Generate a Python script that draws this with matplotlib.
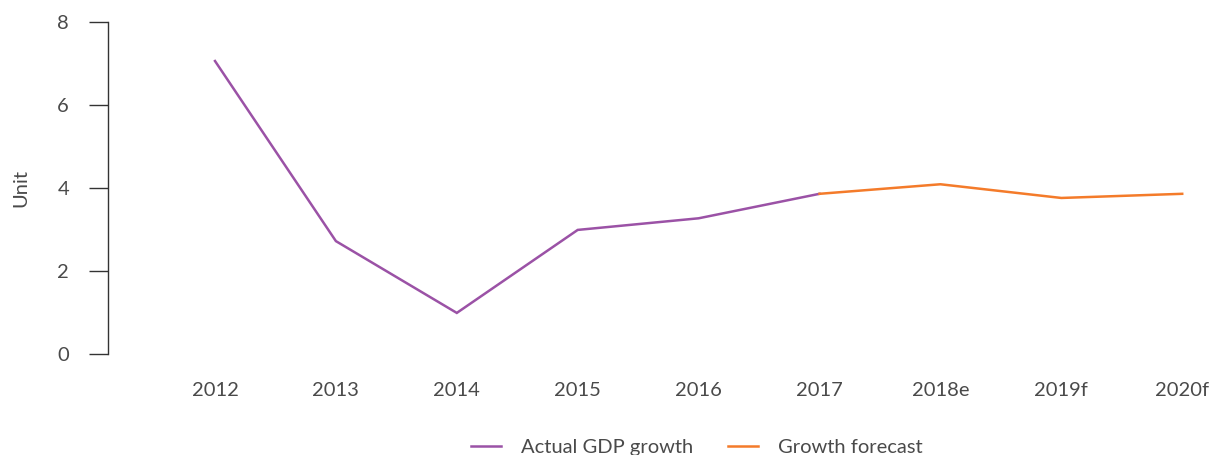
import matplotlib
matplotlib.use("Agg")
import matplotlib.pyplot as plt
from matplotlib.lines import Line2D

plt.rcParams['font.family'] = ['Lato', 'DejaVu Sans']

categories = ["2012", "2013", "2014", "2015", "2016", "2017", "2018e", "2019f", "2020f"]
actual_labels = ["2012", "2013", "2014", "2015", "2016", "2017"]
actual_values = [7.06, 2.72, 0.99, 2.99, 3.27, 3.86]
forecast_labels = ["2017", "2018e", "2019f", "2020f"]
forecast_values = [3.86, 4.09, 3.76, 3.86]
y_ticks = [0, 2, 4, 6, 8]

purple = "#9b52a6"
orange = "#f47b2a"
text_color = "#4a4a4a"
fs = 14.5

W, H = 1215, 455
fig = plt.figure(figsize=(W / 100, H / 100), dpi=100)
ax_left, ax_right = 108, 1215
ax_top, ax_bottom = 22, 354
ax = fig.add_axes([ax_left / W, 1 - ax_bottom / H, (ax_right - ax_left) / W, (ax_bottom - ax_top) / H])

idx = {c: i for i, c in enumerate(categories)}
ax.plot([idx[c] for c in actual_labels], actual_values, color=purple, lw=1.8, solid_joinstyle='miter')
ax.plot([idx[c] for c in forecast_labels], forecast_values, color=orange, lw=1.8, solid_joinstyle='miter')

step = 120.9
first_px = 215
ax.set_xlim(-(first_px - ax_left) / step, (ax_right - first_px) / step)
ax.set_ylim(0, 8)
ax.set_yticks(y_ticks)
ax.set_xticks(range(len(categories)))
ax.set_xticklabels(categories)

for s in ["top", "right", "bottom"]:
    ax.spines[s].set_visible(False)
ax.spines["left"].set_color("#333333")
ax.spines["left"].set_linewidth(1.0)
ax.tick_params(axis='y', length=14, width=1.0, color="#333333", pad=14,
               labelsize=fs, labelcolor=text_color)
ax.tick_params(axis='x', length=0, pad=20, labelsize=fs, labelcolor=text_color)
ax.set_ylabel("Unit", fontsize=fs, color=text_color, labelpad=20)

handles = [Line2D([], [], color=purple, lw=1.8), Line2D([], [], color=orange, lw=1.8)]
fig.legend(handles, ["Actual GDP growth", "Growth forecast"], loc='center',
           bbox_to_anchor=(697 / W, 1 - 447 / H), ncol=2, frameon=False,
           fontsize=fs, labelcolor=text_color, handlelength=1.5, handletextpad=1.0,
           columnspacing=1.7)

fig.savefig("out.png", dpi=100)
